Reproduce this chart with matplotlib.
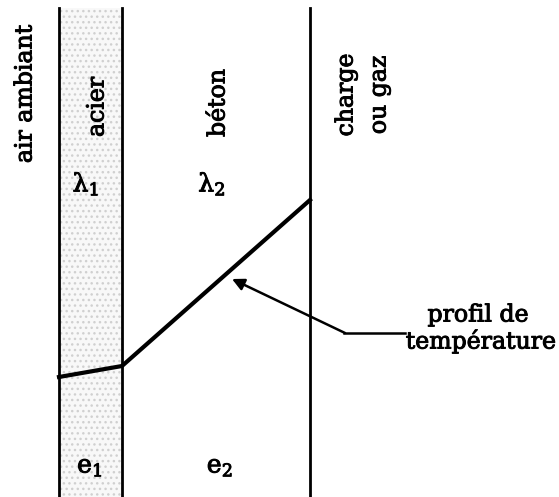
import matplotlib.pyplot as plt
import matplotlib.patheffects as pe
from matplotlib.patches import Rectangle

# layer boundaries (drawing units, left to right) and temperature profile
walls = [59, 122, 310]
profile_x = [59, 122, 310]
profile_t = [377, 366, 200]

layer_names = ['acier', 'béton']
lambdas = ['λ$_1$', 'λ$_2$']
thick = ['e$_1$', 'e$_2$']

plt.rcParams['font.family'] = ['DejaVu Serif']
plt.rcParams['mathtext.fontset'] = 'dejavuserif'

fig = plt.figure(figsize=(5.59, 4.97), dpi=100)
ax = fig.add_axes([0, 0, 1, 1])
ax.set_xlim(0, 559)
ax.set_ylim(497, 0)
ax.axis('off')

# stippled steel layer
ax.add_patch(Rectangle((walls[0], 8), walls[1] - walls[0], 490,
                       facecolor='#f8f8f8', edgecolor='#d0d0d0',
                       hatch='...', linewidth=0))

for x in walls:
    ax.plot([x, x], [8, 497], color='black', lw=2)

ax.plot(profile_x, profile_t, color='black', lw=3)

# labels, slightly thickened to look like the printed original
bold = [pe.withStroke(linewidth=0.7, foreground='black')]
fs = 17
ax.text(25, 94, 'air ambiant', rotation=90, ha='center', va='center', fontsize=fs, path_effects=bold)
ax.text(97, 107, layer_names[0], rotation=90, ha='center', va='center', fontsize=fs, path_effects=bold)
ax.text(218, 103, layer_names[1], rotation=90, ha='center', va='center', fontsize=fs, path_effects=bold)
ax.text(346, 95, 'charge', rotation=90, ha='center', va='center', fontsize=fs, path_effects=bold)
ax.text(379, 95, 'ou gaz', rotation=90, ha='center', va='center', fontsize=fs, path_effects=bold)

for m, lam in zip([86, 212], lambdas):
    ax.text(m, 184, lam, ha='center', va='center', fontsize=18, path_effects=bold)
for m, e in zip([90, 220], thick):
    ax.text(m, 467, e, ha='center', va='center', fontsize=18, path_effects=bold)

# annotation arrow
ax.plot([405, 344], [333, 333], color='black', lw=1.8)
ax.annotate('', xy=(232, 279), xytext=(345, 333),
            arrowprops=dict(arrowstyle='-|>', color='black', lw=1.8,
                            mutation_scale=18, shrinkA=0, shrinkB=0))
ax.text(478, 315, 'profil de', ha='center', va='center', fontsize=fs, path_effects=bold)
ax.text(481, 341, 'température', ha='center', va='center', fontsize=fs, path_effects=bold)

fig.savefig('out.png', dpi=100)
